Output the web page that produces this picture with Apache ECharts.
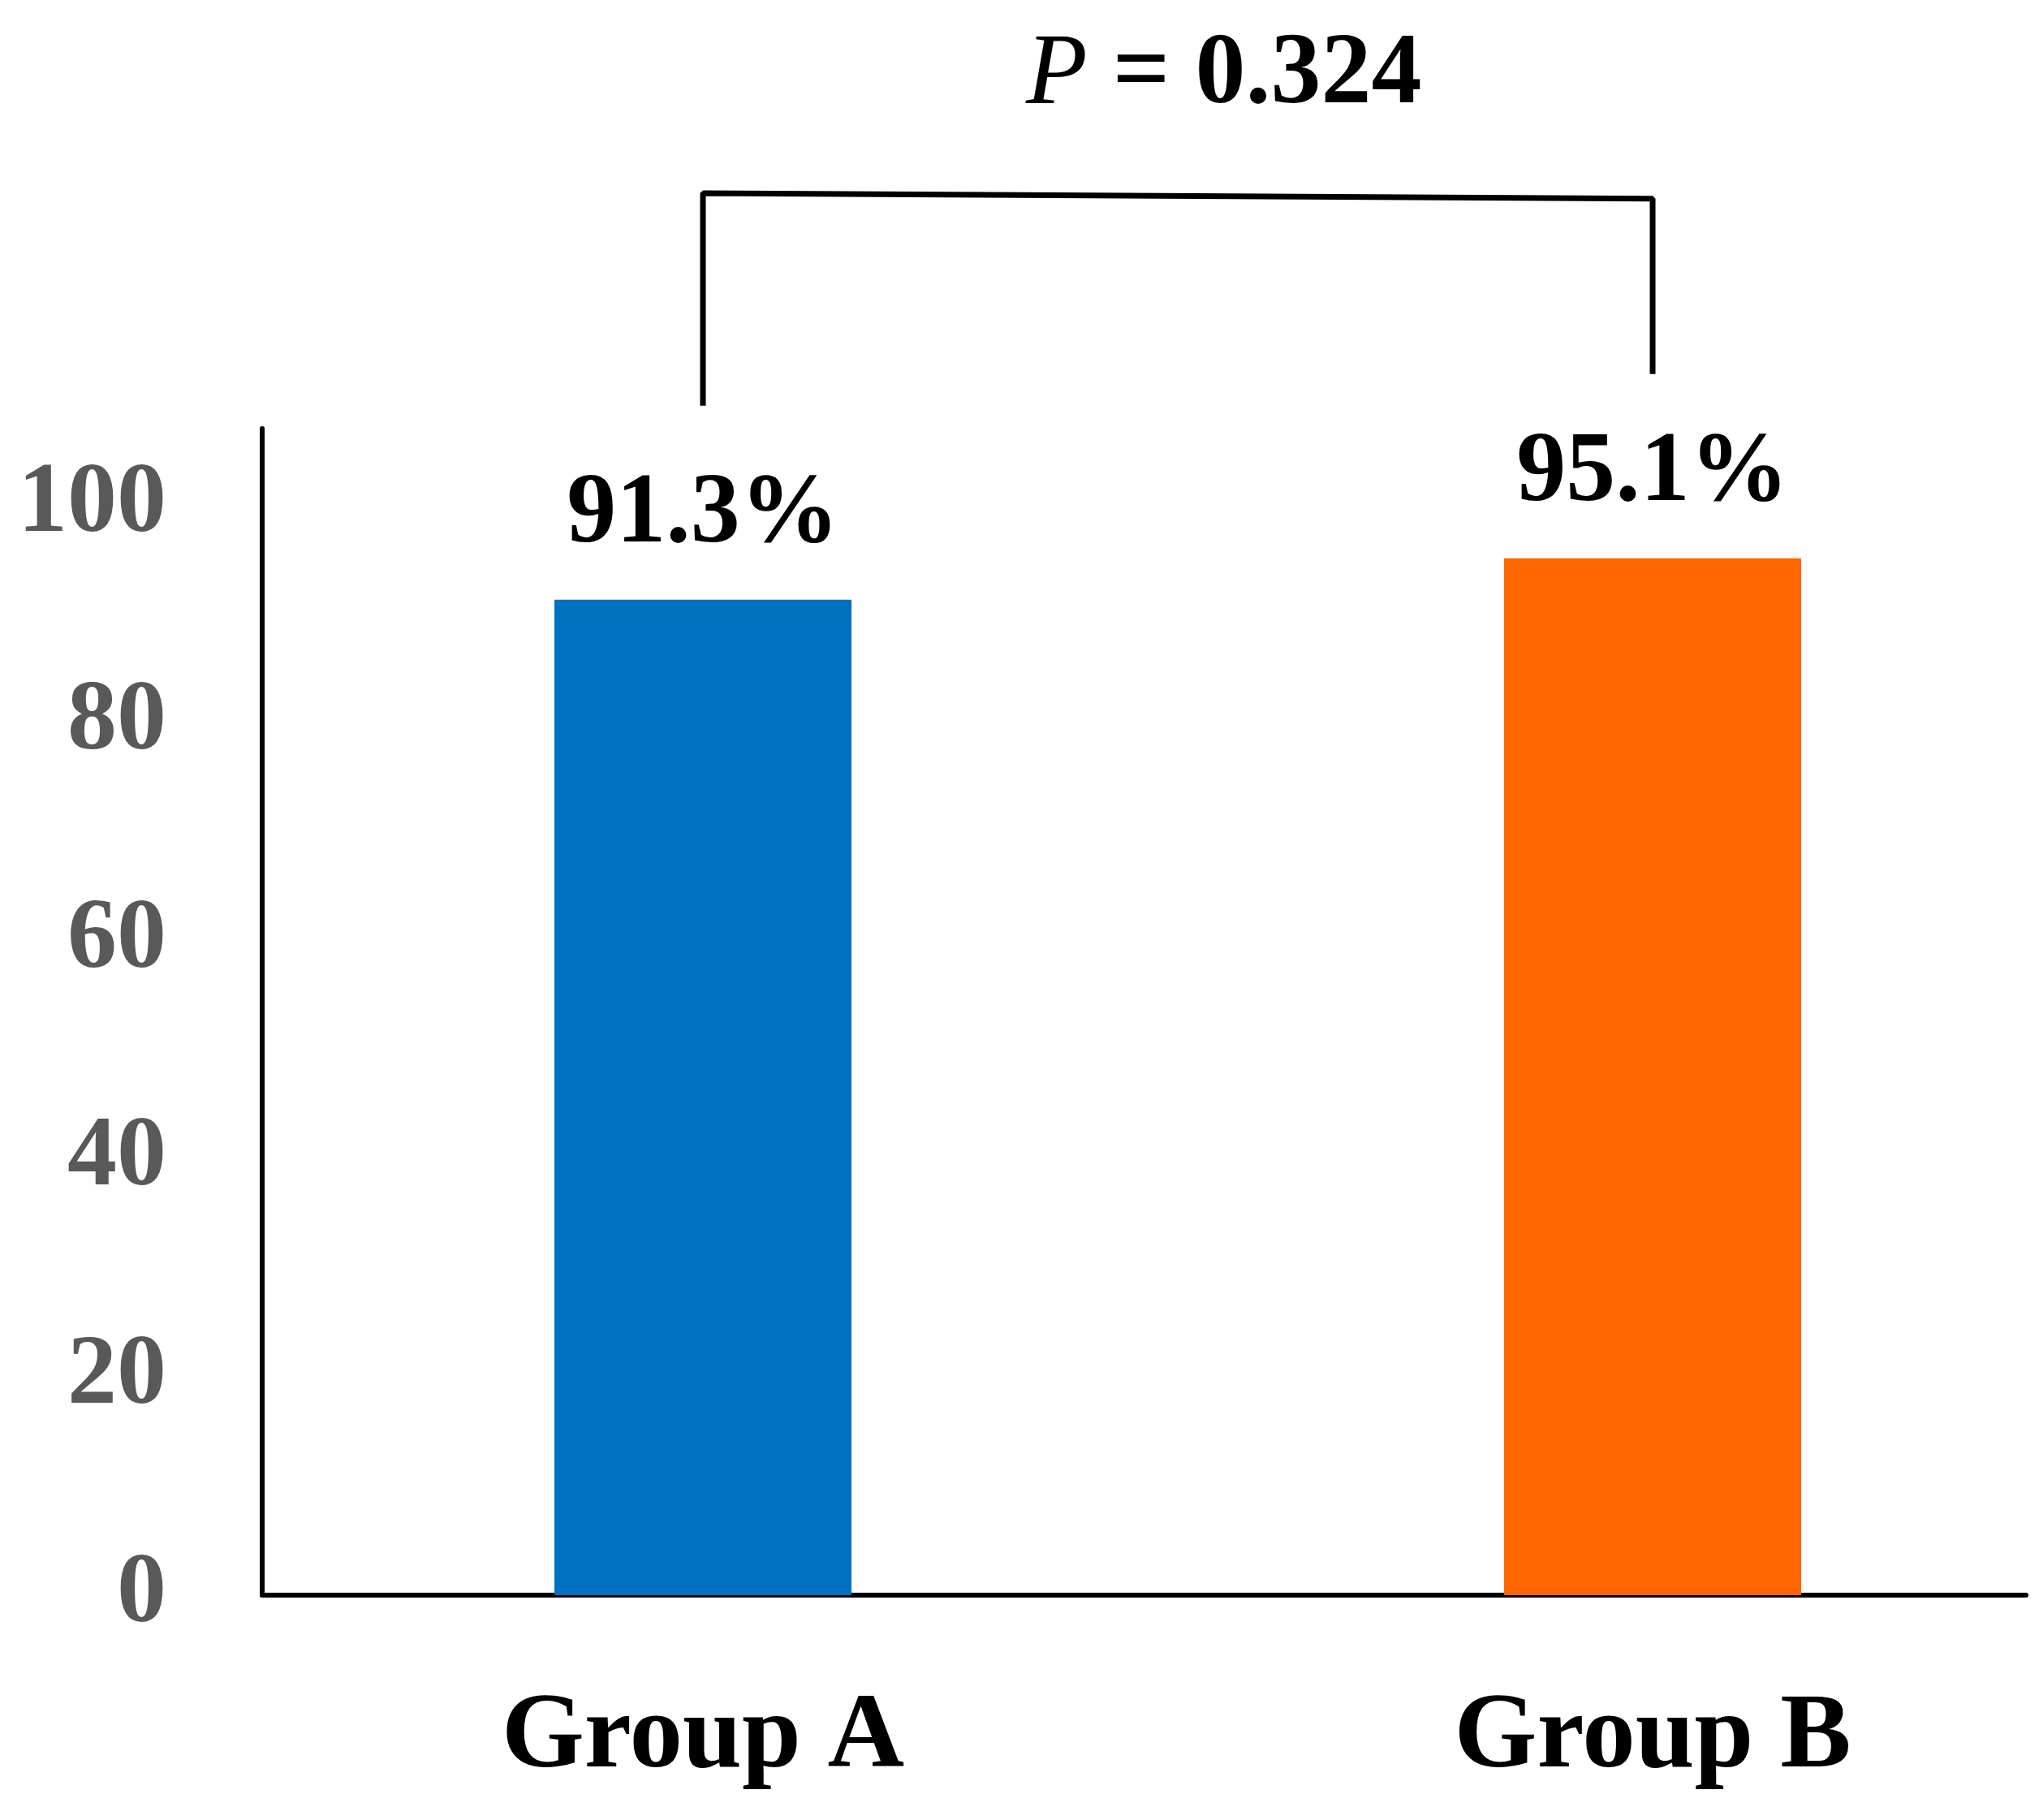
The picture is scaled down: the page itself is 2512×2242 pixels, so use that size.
<!DOCTYPE html>
<html>
<head>
<meta charset="utf-8">
<script src="https://cdn.jsdelivr.net/npm/echarts@6/dist/echarts.min.js"></script>
<style>
html,body{margin:0;padding:0;background:#fff;}
#chart{width:2512px;height:2242px;}
</style>
</head>
<body>
<div id="chart"></div>
<script>
// ---- data ----
const categories = ['Group A', 'Group B'];
const values = [91.3, 95.1];
const yTickLabels = [0, 20, 40, 60, 80, 100];
const bracketCats = ['Group A', 'Group A', 'Group B', 'Group B'];
const bracketValues = [109.1, 128.6, 128.1, 112.0];
const pLabel = 'P';
const pValue = '0.324';
const barColors = ['#0070C0', '#FF6600'];

const yMin = 0, yMax = 107, yInterval = 20;
const serif = '"Liberation Serif", "Times New Roman", serif';

const chart = echarts.init(document.getElementById('chart'), null, {renderer: 'canvas'});

const option = {
  backgroundColor: '#ffffff',
  animation: false,
  title: {
    text: '{i|' + pLabel + '}{b| = ' + pValue + '}',
    left: 1259,
    top: 27,
    textStyle: {
      rich: {
        i: {fontFamily: serif, fontStyle: 'italic', fontWeight: 'normal', fontSize: 124, color: '#000'},
        b: {fontFamily: serif, fontWeight: 'bold', fontSize: 124, color: '#000'}
      }
    }
  },
  grid: [
    {left: 323, right: 16, top: 528, bottom: 277},
    {left: 281, width: 2340, top: 528, bottom: 277, outerBoundsMode: 'none', containLabel: false}
  ],
  xAxis: [
    {
      gridIndex: 0, type: 'category', data: categories,
      axisLine: {show: true, onZero: false, lineStyle: {color: '#000', width: 6}},
      axisTick: {show: false}, axisLabel: {show: false}, splitLine: {show: false}
    },
    {
      gridIndex: 1, type: 'category', data: categories,
      axisLine: {show: false}, axisTick: {show: false}, splitLine: {show: false},
      axisLabel: {
        show: true, margin: 112, color: '#000',
        fontFamily: serif, fontWeight: 'bold', fontSize: 131
      }
    }
  ],
  yAxis: [
    {
      gridIndex: 0, type: 'value', min: yMin, max: yMax, interval: yInterval,
      axisLine: {show: true, lineStyle: {color: '#000', width: 6}},
      axisTick: {show: false}, splitLine: {show: false},
      axisLabel: {
        show: true, margin: 118, color: '#595959',
        fontFamily: serif, fontWeight: 'bold', fontSize: 122,
        formatter: v => (yTickLabels.indexOf(v) >= 0 ? String(v) : '')
      }
    },
    {
      gridIndex: 1, type: 'value', min: yMin, max: yMax, interval: yInterval,
      show: false
    }
  ],
  series: [
    {
      type: 'bar', xAxisIndex: 1, yAxisIndex: 1,
      barWidth: 366,
      data: values.map((v, i) => ({value: v, itemStyle: {color: barColors[i]}})),
      label: {
        show: true, position: 'top', distance: 42,
        formatter: '{c}%', color: '#000',
        fontFamily: serif, fontWeight: 'bold', fontSize: 122
      }
    },
    {
      type: 'line', xAxisIndex: 1, yAxisIndex: 1,
      clip: false, symbol: 'none', silent: true,
      lineStyle: {color: '#000', width: 7},
      data: bracketCats.map((c, i) => [c, bracketValues[i]])
    }
  ]
};
chart.setOption(option);
</script>
</body>
</html>
